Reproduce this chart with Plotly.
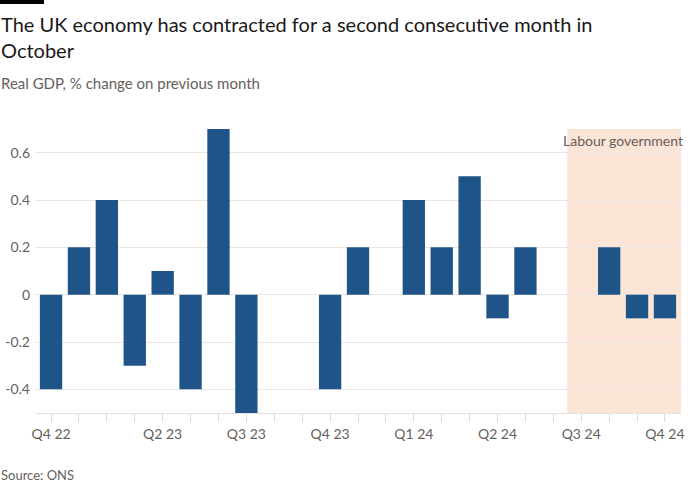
import plotly.graph_objects as go

months = ["Dec 22", "Jan 23", "Feb 23", "Mar 23", "Apr 23", "May 23", "Jun 23", "Jul 23",
          "Aug 23", "Sep 23", "Oct 23", "Nov 23", "Dec 23", "Jan 24", "Feb 24", "Mar 24",
          "Apr 24", "May 24", "Jun 24", "Jul 24", "Aug 24", "Sep 24", "Oct 24"]
gdp_change = [-0.4, 0.2, 0.4, -0.3, 0.1, -0.4, 0.7, -0.5,
              0.0, 0.0, -0.4, 0.2, 0.0, 0.4, 0.2, 0.5,
              -0.1, 0.2, 0.0, 0.0, 0.2, -0.1, -0.1]
tick_labels = ["Q4 22", "", "", "", "Q2 23", "", "", "Q3 23",
               "", "", "Q4 23", "", "", "Q1 24", "", "",
               "Q2 24", "", "", "Q3 24", "", "", "Q4 24"]
y_ticks = [-0.4, -0.2, 0, 0.2, 0.4, 0.6]
y_tick_labels = ["-0.4", "-0.2", "0", "0.2", "0.4", "0.6"]

FONT = "Lato"
GREY = "#66605c"
GRID = "#ebe6e1"

L, R, T, B = 35, 19, 129, 87
PW, PH = 700 - L - R, 500 - T - B


def px_x(px):
    return (px - L) / PW


def px_y(py):
    return (500 - B - py) / PH


fig = go.Figure()
fig.add_trace(go.Bar(
    x=months, y=gdp_change,
    marker=dict(color="#1f5489", line=dict(width=0)),
    width=0.8,
    hoverinfo="x+y",
))

n = len(months)
fig.add_shape(type="rect", xref="x", yref="y", x0=18.5, x1=n - 1 + 0.575,
              y0=-0.5, y1=0.7, fillcolor="#fbe5d6", line=dict(width=0), layer="below")

fig.update_layout(
    width=700, height=500,
    margin=dict(l=L, r=R, t=T, b=B),
    paper_bgcolor="white", plot_bgcolor="white",
    showlegend=False,
    font=dict(family=FONT, color=GREY, size=14),
    xaxis=dict(
        type="category", range=[-0.575, n - 1 + 0.575], automargin=False,
        tickmode="array", tickvals=months, ticktext=tick_labels,
        ticks="outside", ticklen=8, tickcolor="#e0dad5", tickwidth=1,
        showline=True, linecolor="#e6e0da", linewidth=1,
        showgrid=False, tickfont=dict(size=14, color=GREY, family=FONT),
        fixedrange=True,
    ),
    yaxis=dict(
        range=[-0.5, 0.7], tickmode="array", tickvals=y_ticks, ticktext=y_tick_labels,
        automargin=False,
        showgrid=True, gridcolor=GRID, gridwidth=1,
        zeroline=True, zerolinecolor=GRID, zerolinewidth=1,
        showline=False, ticks="", ticklabelstandoff=4,
        tickfont=dict(size=14, color=GREY, family=FONT),
        fixedrange=True,
    ),
)

fig.add_annotation(x=n - 1 + 0.575, y=0.65, xref="x", yref="y", text="Labour government",
                   showarrow=False, xanchor="right", yanchor="middle", xshift=4,
                   font=dict(size=14, color=GREY, family=FONT))

fig.add_annotation(text="The UK economy has contracted for a second consecutive month in<br>October",
                   xref="paper", yref="paper", x=px_x(-1), y=px_y(10),
                   xanchor="left", yanchor="top", align="left", showarrow=False,
                   font=dict(size=20, color="#1a1817", family=FONT))
fig.add_annotation(text="Real GDP, % change on previous month",
                   xref="paper", yref="paper", x=px_x(-1), y=px_y(72),
                   xanchor="left", yanchor="top", align="left", showarrow=False,
                   font=dict(size=15, color=GREY, family=FONT))
fig.add_annotation(text="Source: ONS",
                   xref="paper", yref="paper", x=px_x(-1), y=px_y(465),
                   xanchor="left", yanchor="top", align="left", showarrow=False,
                   font=dict(size=13, color=GREY, family=FONT))

fig.add_shape(type="rect", xref="paper", yref="paper",
              x0=px_x(0), x1=px_x(44), y0=px_y(4), y1=px_y(0),
              fillcolor="black", line=dict(width=0))

fig.write_html("out.html", config={"displayModeBar": False},
               post_script="document.body.style.margin='0';")
